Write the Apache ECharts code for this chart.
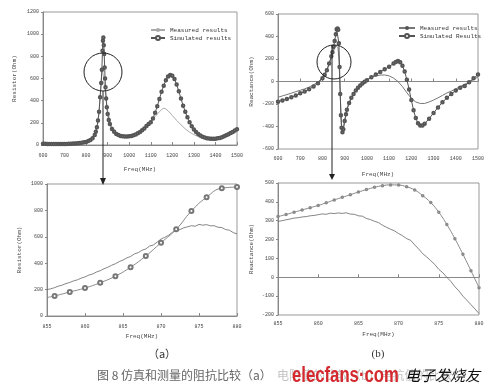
<!DOCTYPE html>
<html><head><meta charset="utf-8">
<script src="https://cdn.jsdelivr.net/npm/echarts@6/dist/echarts.min.js"></script>
<style>html,body{margin:0;padding:0;background:#fff}#c{width:500px;height:390px}</style>
</head><body><div id="c"></div><script>
// (a) top: resistance overview
const aSimFreq = [600,610,620,630,640,650,660,670,680,690,700,710,720,730,740,750,760,770,780,790,800,810,820,830,840,845,850,855,860,865,870,873,876,878,880,882,884,886,888,890,893,896,900,905,910,920,930,940,950,960,970,980,990,1000,1010,1020,1030,1040,1050,1060,1070,1080,1090,1100,1110,1120,1130,1140,1150,1160,1170,1180,1190,1200,1210,1220,1230,1240,1250,1260,1270,1280,1290,1300,1310,1320,1330,1340,1350,1360,1370,1380,1390,1400,1410,1420,1430,1440,1450,1460,1470,1480,1490,1500];
const aSimRes = [12,11,10,10,9,8,8,8,8,9,10,10,11,12,13,14,16,18,20,24,28,35,45,60,90,120,160,220,300,430,560,680,850,940,970,900,820,700,600,520,420,340,280,225,190,145,120,100,90,82,78,76,76,78,82,88,95,105,118,132,150,172,190,205,240,290,350,415,480,535,585,618,632,625,595,545,485,420,355,300,250,205,170,140,118,100,85,75,68,62,58,56,56,57,60,64,70,78,88,98,108,118,130,142];
const aMeasFreq = [600,620,640,660,680,700,720,740,760,780,800,820,840,850,855,860,865,870,875,880,885,890,895,900,910,920,940,960,980,1000,1020,1040,1060,1080,1100,1120,1140,1150,1160,1170,1180,1190,1200,1220,1240,1260,1280,1300,1320,1340,1360,1380,1400,1420,1440,1460,1480,1500];
const aMeasRes = [18,14,11,10,9,10,11,12,14,18,28,45,95,170,200,290,430,585,690,620,540,460,380,310,215,165,112,90,82,84,94,112,138,172,212,256,300,320,332,326,308,288,266,222,182,146,116,93,76,63,56,53,54,59,68,82,100,125];

// (b) top: reactance overview
const bSimFreq = [600,620,640,660,680,700,720,740,760,780,800,810,820,830,840,845,850,855,860,864,868,871,874,877,880,883,886,890,894,900,906,910,920,930,940,950,960,970,980,990,1000,1020,1040,1060,1080,1100,1120,1130,1140,1150,1160,1170,1180,1190,1200,1210,1220,1230,1240,1250,1260,1280,1300,1320,1340,1360,1380,1400,1420,1440,1460,1480,1500];
const bSimReact = [-180,-168,-155,-140,-125,-105,-88,-68,-45,-15,30,60,100,160,225,260,310,360,420,465,472,460,340,130,-110,-300,-410,-450,-425,-350,-290,-250,-190,-145,-110,-80,-55,-35,-18,-2,12,38,62,85,108,132,160,174,182,172,140,88,15,-70,-165,-255,-325,-372,-392,-390,-375,-330,-280,-230,-185,-145,-110,-80,-55,-40,-7,28,62];
const bMeasFreq = [600,620,640,660,680,700,720,740,760,780,800,810,820,830,840,850,855,860,865,870,874,877,880,883,886,890,894,900,906,910,920,930,940,950,960,970,980,990,1000,1020,1040,1060,1080,1100,1120,1140,1160,1180,1200,1220,1240,1260,1280,1300,1320,1340,1360,1380,1400,1420,1440,1460,1480,1500];
const bMeasReact = [-140,-128,-116,-104,-90,-78,-65,-50,-30,-5,35,62,100,155,210,270,300,320,325,300,200,60,-100,-280,-400,-440,-420,-350,-290,-250,-190,-145,-110,-80,-55,-35,-18,-2,12,35,50,57,58,50,30,0,-45,-100,-150,-182,-195,-195,-182,-165,-145,-124,-102,-85,-65,-45,-25,-5,18,40];

// detail plots (855-880 MHz)
const detFreq = [855,855.5,856,856.5,857,857.5,858,858.5,859,859.5,860,860.5,861,861.5,862,862.5,863,863.5,864,864.5,865,865.5,866,866.5,867,867.5,868,868.5,869,869.5,870,870.5,871,871.5,872,872.5,873,873.5,874,874.5,875,875.5,876,876.5,877,877.5,878,878.5,879,879.5,880];
const cMeasRes = [200,206,215,226,234,246,254,266,274,287,296,310,318,333,343,358,369,384,396,412,424,440,451,470,480,498,508,530,538,560,583,596,612,634,648,655,668,676,684,680,694,688,692,683,684,672,670,655,650,632,622];
const cSimFreq = [855,856,858,860,862,864,866,868,870,872,874,876,878,880];
const cSimRes = [140,152,182,212,252,302,370,455,555,657,795,900,968,977];
const dMeasReact = [296,300,305,309,314,316,320,322,326,328,332,336,334,340,338,341,339,342,335,334,326,324,312,306,297,290,276,265,255,246,232,220,205,196,172,150,125,108,88,68,42,24,0,-22,-50,-72,-100,-122,-145,-168,-192];
const dSimFreq = [855,856,857,858,859,860,861,862,863,864,865,866,867,868,869,870,871,872,873,874,875,876,877,878,879,880];
const dSimReact = [322,333,345,357,369,381,395,410,424,438,452,465,477,486,490,489,480,463,433,396,345,280,205,122,35,-55];

const zip = (xs, ys) => xs.map((x, i) => [x, ys[i]]);
const FONT = 'Liberation Mono';
const TXT = '#444';
const plain = v => String(v);

function xAxis(g, min, max, iv, margin, gap) {
  return { gridIndex: g, type: 'value', min, max, interval: iv,
    name: 'Freq(MHz)', nameLocation: 'middle', nameGap: gap,
    nameTextStyle: { fontSize: 6, fontFamily: FONT, color: TXT },
    axisLine: { lineStyle: { color: '#888', width: 1 } },
    axisTick: { show: true, inside: true, length: 3, lineStyle: { color: '#888' } },
    axisLabel: { fontSize: 5, fontFamily: FONT, color: TXT, margin, formatter: plain, showMinLabel: true, showMaxLabel: true },
    splitLine: { show: false } };
}
function yAxis(g, min, max, iv, name, gap) {
  return { gridIndex: g, type: 'value', min, max, interval: iv,
    name, nameLocation: 'middle', nameGap: gap,
    nameTextStyle: { fontSize: 6, fontFamily: FONT, color: TXT },
    axisLine: { show: true, lineStyle: { color: '#888', width: 1 } },
    axisTick: { show: true, length: 2, lineStyle: { color: '#888' } },
    axisLabel: { fontSize: 5, fontFamily: FONT, color: TXT, margin: 4, formatter: plain, showMinLabel: true, showMaxLabel: true },
    splitLine: { show: false } };
}
const gridStyle = { show: true, borderColor: '#999', borderWidth: 1, backgroundColor: 'transparent' };

const cSimData = zip(cSimFreq, cSimRes).map((p, i) => ({ value: p, symbol: i === 0 ? 'none' : 'emptyCircle' }));

const option = {
  backgroundColor: '#fff',
  animation: false,
  grid: [
    Object.assign({ left: 43, top: 12, width: 194, height: 133 }, gridStyle),
    Object.assign({ left: 278, top: 14, width: 200, height: 135 }, gridStyle),
    Object.assign({ left: 47, top: 184, width: 190, height: 132 }, gridStyle),
    Object.assign({ left: 278, top: 183, width: 201, height: 132 }, gridStyle)
  ],
  xAxis: [
    xAxis(0, 600, 1500, 100, 8, 21),
    xAxis(1, 600, 1500, 100, 7, 22),
    xAxis(2, 855, 880, 5, 8, 17),
    xAxis(3, 855, 880, 5, 6, 16)
  ],
  yAxis: [
    yAxis(0, 0, 1200, 200, 'Resistor(Ohm)', 26),
    yAxis(1, -600, 600, 200, 'Reactance(Ohm)', 24),
    yAxis(2, 0, 1000, 200, 'Resistor(Ohm)', 25),
    yAxis(3, -200, 500, 100, 'Reactance(Ohm)', 24)
  ],
  legend: [
    { left: 145, top: 22, orient: 'vertical', itemGap: 2, itemWidth: 14, itemHeight: 5, selectedMode: false,
      data: ['Measured results', 'Simulated results'],
      textStyle: { fontSize: 6, fontFamily: FONT, color: '#333' } },
    { left: 393, top: 20, orient: 'vertical', itemGap: 2, itemWidth: 16, itemHeight: 5, selectedMode: false,
      data: ['Measured results-b', 'Simulated Results'],
      formatter: n => n.replace('-b', ''),
      textStyle: { fontSize: 6, fontFamily: FONT, color: '#333' } }
  ],
  series: [
    { name: 'Measured results', type: 'line', xAxisIndex: 0, yAxisIndex: 0, data: zip(aMeasFreq, aMeasRes),
      symbol: 'none', lineStyle: { color: '#aaa', width: 1 }, itemStyle: { color: '#aaa' } },
    { name: 'Simulated results', type: 'line', xAxisIndex: 0, yAxisIndex: 0, data: zip(aSimFreq, aSimRes),
      symbol: 'emptyCircle', symbolSize: 2.5, lineStyle: { color: '#555', width: 1 }, itemStyle: { color: '#555', borderWidth: 0.7 } },
    { name: 'Measured results-b', type: 'line', xAxisIndex: 1, yAxisIndex: 1, data: zip(bMeasFreq, bMeasReact),
      symbol: 'none', lineStyle: { color: '#777', width: 1 }, itemStyle: { color: '#555' } },
    { name: 'Simulated Results', type: 'line', xAxisIndex: 1, yAxisIndex: 1, data: zip(bSimFreq, bSimReact),
      symbol: 'emptyCircle', symbolSize: 2.5, lineStyle: { color: '#555', width: 1 }, itemStyle: { color: '#555', borderWidth: 0.7 } },
    { name: 'c-meas', type: 'line', xAxisIndex: 2, yAxisIndex: 2, data: zip(detFreq, cMeasRes),
      symbol: 'none', lineStyle: { color: '#666', width: 0.8 } },
    { name: 'c-sim', type: 'line', xAxisIndex: 2, yAxisIndex: 2, data: cSimData, smooth: true,
      symbolSize: 4, lineStyle: { color: '#888', width: 1 }, itemStyle: { color: '#777', borderWidth: 0.8 } },
    { name: 'd-meas', type: 'line', xAxisIndex: 3, yAxisIndex: 3, data: zip(detFreq, dMeasReact),
      symbol: 'none', lineStyle: { color: '#666', width: 0.8 } },
    { name: 'd-sim', type: 'line', xAxisIndex: 3, yAxisIndex: 3, data: zip(dSimFreq, dSimReact), smooth: true,
      symbol: 'emptyCircle', symbolSize: 1.5, lineStyle: { color: '#888', width: 1 }, itemStyle: { color: '#888', borderWidth: 0.5 } }
  ],
  graphic: [
    { type: 'circle', shape: { cx: 103, cy: 72, r: 19 }, style: { fill: 'none', stroke: '#222', lineWidth: 1 }, z: 100 },
    { type: 'line', shape: { x1: 103, y1: 91, x2: 103, y2: 179 }, style: { stroke: '#222', lineWidth: 1 }, z: 100 },
    { type: 'polygon', shape: { points: [[100, 178], [106, 178], [103, 185]] }, style: { fill: '#222' }, z: 100 },
    { type: 'circle', shape: { cx: 334, cy: 62, r: 17 }, style: { fill: 'none', stroke: '#222', lineWidth: 1 }, z: 100 },
    { type: 'line', shape: { x1: 332, y1: 45, x2: 332, y2: 175 }, style: { stroke: '#222', lineWidth: 1 }, z: 100 },
    { type: 'polygon', shape: { points: [[329, 174], [335, 174], [332, 180]] }, style: { fill: '#222' }, z: 100 },
    { type: 'text', x: 162, y: 354, style: { text: '（a）', font: '11px "Noto Sans CJK SC"', fill: '#333', align: 'center', verticalAlign: 'middle' } },
    { type: 'text', x: 378, y: 354, style: { text: '(b)', font: '11px "Liberation Serif"', fill: '#333', align: 'center', verticalAlign: 'middle' } },
    { type: 'text', x: 97, y: 375, style: { text: '图 8 仿真和测量的阻抗比较（a）', font: '12px "Noto Sans CJK SC"', fill: '#666', align: 'left', verticalAlign: 'middle' } },
    { type: 'text', x: 277, y: 375, style: { text: '电阻值的比较（b）电抗值的比较', font: '12px "Noto Sans CJK SC"', fill: '#c4c4c4', align: 'left', verticalAlign: 'middle' } },
    { type: 'text', x: 292, y: 387, scaleX: 0.76, style: { text: 'elecfans·com', font: 'bold 22px "Liberation Sans"', fill: '#d42a2f', align: 'left', verticalAlign: 'bottom' }, z: 110 },
    { type: 'text', x: 405, y: 375, style: { text: '电子发烧友', font: 'italic 15px "Noto Sans CJK SC"', fill: '#111', align: 'left', verticalAlign: 'middle' }, z: 110 }
  ]
};
const chart = echarts.init(document.getElementById('c'), null, { renderer: 'canvas' });
chart.setOption(option);
</script></body></html>
